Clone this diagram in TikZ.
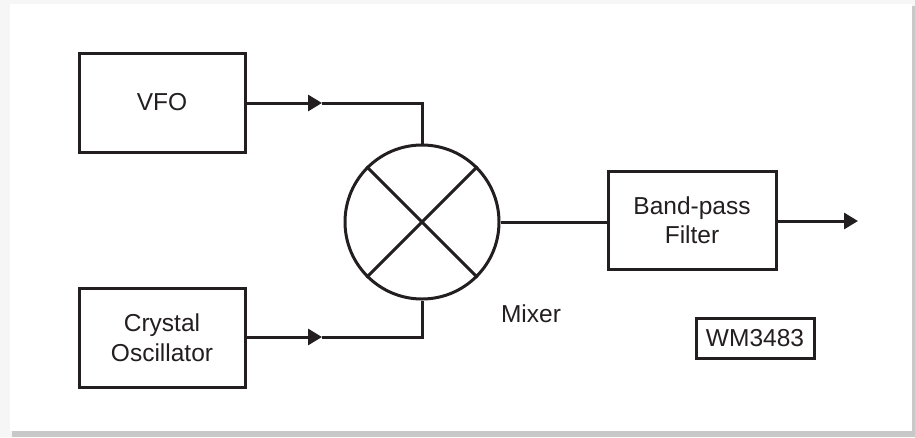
\documentclass[tikz,border=0pt]{standalone}
\usepackage{fontspec}
\setmainfont{Liberation Sans}
\usetikzlibrary{arrows.meta}
\definecolor{ink}{HTML}{231F20}
\definecolor{bg}{HTML}{F6F6F6}
\definecolor{shadow}{HTML}{C8C8C8}
\begin{document}
\begin{tikzpicture}[x=1pt,y=-1pt,
  line width=3pt, draw=ink,
  blk/.style={draw=ink, line width=3pt, rectangle, inner sep=0pt, text=ink,
     font=\fontsize{24.5}{29.5}\selectfont, align=center},
  lbl/.style={text=ink, font=\fontsize{24.5}{29.5}\selectfont, inner sep=0pt},
  tip/.style={-{Triangle[length=14pt,width=16pt]}}]
\useasboundingbox (0,0) rectangle (915,437);
\fill[bg] (0,0) rectangle (915,437);
\fill[shadow] (12,431) rectangle (915,437);
\fill[shadow] (912,6) rectangle (915,437);
\fill[white] (10,4) rectangle (912,431);

\node[blk, minimum width=166pt, minimum height=99pt] (vfo) at (162,102.5) {VFO};
\node[blk, minimum width=166pt, minimum height=99pt] (xo) at (162,337.5) {Crystal\\Oscillator};
\node[draw=ink, line width=3pt, circle, minimum size=154pt, inner sep=0pt] (mix) at (422,222) {};
\node[blk, minimum width=168pt, minimum height=98pt] (bpf) at (692,220) {Band-pass\\Filter};
\node[blk, minimum width=118pt, minimum height=40pt] (wm) at (755,338) {WM3483};
\node[lbl] (mixl) at (531,314) {Mixer};

\draw (mix.45) -- (mix.225);
\draw (mix.135) -- (mix.-45);

\coordinate (a1) at (322,103);
\coordinate (a2) at (322,337);
\coordinate (out) at (858,221);
\draw[tip] (vfo.east |- a1) -- (a1);
\draw (a1) -| (mix.north);
\draw[tip] (xo.east |- a2) -- (a2);
\draw (a2) -| (mix.south);
\draw (mix.east) -- (bpf.west |- mix.east);
\draw[tip] (bpf.east |- out) -- (out);
\end{tikzpicture}
\end{document}
